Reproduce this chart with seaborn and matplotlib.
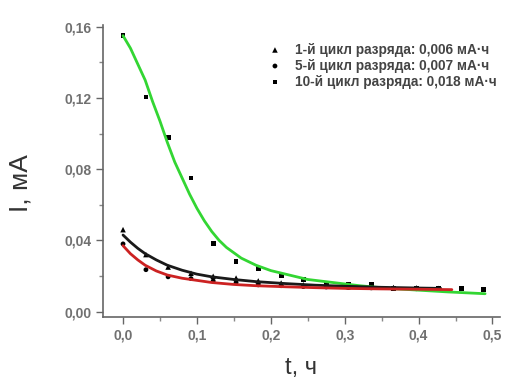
import numpy as np
import pandas as pd
import seaborn as sns
import matplotlib.pyplot as plt
from matplotlib.ticker import MultipleLocator, FuncFormatter

# measured points, t in hours
t_points = [0, 0.031, 0.061, 0.092, 0.122, 0.153, 0.183, 0.214, 0.244,
            0.275, 0.305, 0.336, 0.366, 0.397, 0.427, 0.458, 0.488]
cycle1_I = [0.046, 0.032, 0.025, 0.0215, 0.0198, 0.0188, 0.0172, 0.016, 0.015,
            0.0145, 0.014, 0.0138, 0.0135, 0.0133, 0.013]
cycle5_I = [0.038, 0.0235, 0.0195, 0.0185, 0.0172, 0.0163, 0.015, 0.0145, 0.014,
            0.0138, 0.0135, 0.0133, 0.013, 0.0128, 0.0127]
cycle10_I = [0.155, 0.1205, 0.098, 0.075, 0.038, 0.028, 0.024, 0.020, 0.018,
             0.016, 0.0155, 0.015, 0.013, 0.013, 0.013, 0.013, 0.0125]

# fitted curves
fit1_t = [0, 0.01, 0.02, 0.03, 0.045, 0.06, 0.08, 0.10, 0.12, 0.15, 0.18,
          0.22, 0.26, 0.30, 0.35, 0.40, 0.43]
fit1_I = [0.043, 0.039, 0.0355, 0.0325, 0.029, 0.026, 0.0232, 0.021, 0.0195,
          0.018, 0.0168, 0.0157, 0.0148, 0.0142, 0.0136, 0.0132, 0.013]
fit5_t = [0, 0.01, 0.02, 0.03, 0.045, 0.06, 0.08, 0.10, 0.12, 0.15, 0.18,
          0.22, 0.26, 0.30, 0.35, 0.40, 0.445]
fit5_I = [0.037, 0.0325, 0.029, 0.026, 0.0228, 0.0205, 0.0187, 0.0175, 0.0163,
          0.0152, 0.0145, 0.0139, 0.0134, 0.013, 0.0127, 0.0125, 0.0123]
fit10_t = [0, 0.01, 0.02, 0.03, 0.04, 0.05, 0.06, 0.07, 0.08, 0.09, 0.10, 0.11,
           0.12, 0.13, 0.14, 0.16, 0.18, 0.20, 0.22, 0.25, 0.28, 0.32, 0.36,
           0.40, 0.44, 0.49]
fit10_I = [0.155, 0.148, 0.139, 0.130, 0.118, 0.107, 0.095, 0.084, 0.075, 0.066,
           0.058, 0.051, 0.045, 0.040, 0.036, 0.030, 0.026, 0.023, 0.021, 0.018,
           0.0165, 0.0145, 0.013, 0.012, 0.011, 0.010]

labels = ["1-й цикл разряда: 0,006 мА·ч",
          "5-й цикл разряда: 0,007 мА·ч",
          "10-й цикл разряда: 0,018 мА·ч"]

sns.set_style("ticks")
plt.rcParams['font.family'] = ['Liberation Sans', 'DejaVu Sans']

fig = plt.figure(figsize=(5.18, 3.85), dpi=100)
ax = fig.add_axes([0.199, 0.177, 0.766, 0.758])

sns.lineplot(x=fit10_t, y=fit10_I, color="#33d633", lw=2, ax=ax)
sns.lineplot(x=fit1_t, y=fit1_I, color="#1a1a1a", lw=2, ax=ax)
sns.lineplot(x=fit5_t, y=fit5_I, color="#cc2222", lw=2, ax=ax)

sns.scatterplot(x=t_points[:len(cycle1_I)], y=cycle1_I, marker="^", s=16,
                color="black", edgecolor="none", label=labels[0], ax=ax)
sns.scatterplot(x=t_points[:len(cycle5_I)], y=cycle5_I, marker="o", s=12,
                color="black", edgecolor="none", label=labels[1], ax=ax)
sns.scatterplot(x=t_points, y=cycle10_I, marker="s", s=12,
                color="black", edgecolor="none", label=labels[2], ax=ax)

ax.set_xlim(-0.027, 0.51)
ax.set_ylim(-0.003, 0.161)
ax.xaxis.set_major_locator(MultipleLocator(0.1))
ax.xaxis.set_minor_locator(MultipleLocator(0.05))
ax.yaxis.set_major_locator(MultipleLocator(0.04))
ax.yaxis.set_minor_locator(MultipleLocator(0.02))
ax.xaxis.set_major_formatter(FuncFormatter(lambda v, p: f"{v:.1f}".replace(".", ",")))
ax.yaxis.set_major_formatter(FuncFormatter(lambda v, p: f"{v:.2f}".replace(".", ",")))

for side in ["top", "right"]:
    ax.spines[side].set_visible(False)
for side in ["left", "bottom"]:
    ax.spines[side].set_color("#666666")
    ax.spines[side].set_linewidth(1.2)
ax.tick_params(which="major", length=5, width=1, color="#666666",
               labelsize=10, labelcolor="#707070")
ax.tick_params(which="minor", length=3, width=1, color="#888888")
for lbl in ax.get_xticklabels() + ax.get_yticklabels():
    lbl.set_fontweight("bold")

ax.set_xlabel("t, ч", fontsize=17, color="#333333", labelpad=10)
ax.set_ylabel("I, мА", fontsize=19, color="#333333")
ax.yaxis.set_label_coords(-0.178, 0.46)

leg = ax.legend(loc="upper left", bbox_to_anchor=(0.416, 0.94), frameon=False,
                prop={"size": 9.8, "weight": "bold"}, handletextpad=1.0,
                labelspacing=0.15, borderpad=0, borderaxespad=0,
                handlelength=1.0)
for txt in leg.get_texts():
    txt.set_color("#444444")

fig.savefig("out.png", dpi=100)
